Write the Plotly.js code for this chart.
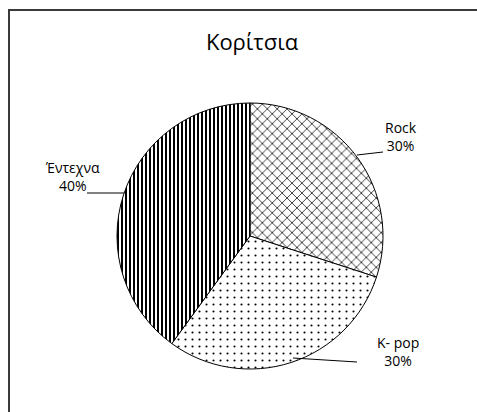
<!DOCTYPE html>
<html>
<head>
<meta charset="utf-8">
<script src="https://cdn.plot.ly/plotly-3.0.1.min.js"></script>
<style>html,body{margin:0;padding:0;background:#fff;}#chart{width:477px;height:412px;}</style>
</head>
<body>
<div id="chart"></div>
<script>
const categories = ['Rock', 'K- pop', 'Έντεχνα'];
const values = [30, 30, 40];
const chartTitle = 'Κορίτσια';

const W = 477, H = 412;
const px = x => x / W;
const py = y => 1 - y / H;

const total = values.reduce((a, b) => a + b, 0);
const pctText = values.map(v => Math.round(v / total * 100) + '%');

// label placement (layout positions in pixels)
const labelPos = [
  {x: 401, y: 137},
  {x: 398, y: 351},
  {x: 72, y: 177}
];
const leaders = [
  [[357, 155], [383, 152]],
  [[293, 358], [357, 362]],
  [[124, 193], [87, 193]]
];

const trace = {
  type: 'pie',
  labels: categories,
  values: values,
  sort: false,
  direction: 'clockwise',
  rotation: 0,
  textinfo: 'none',
  hoverinfo: 'label+percent',
  domain: {x: [px(117), px(383)], y: [py(369), py(103)]},
  marker: {
    colors: ['#ffffff', '#ffffff', '#ffffff'],
    line: {color: '#000000', width: 1},
    pattern: {
      shape: ['x', '.', '|'],
      fgcolor: '#000000',
      bgcolor: '#ffffff',
      size: [7, 7, 4],
      solidity: [0.2, 0.07, 0.5],
      fillmode: 'replace'
    }
  },
  showlegend: false
};

const annotations = categories.map((c, i) => ({
  xref: 'paper', yref: 'paper',
  x: px(labelPos[i].x), y: py(labelPos[i].y),
  xanchor: 'center', yanchor: 'middle',
  text: c + '<br>' + pctText[i],
  showarrow: false,
  align: 'center',
  font: {family: 'Open Sans, sans-serif', size: 14, color: '#000'}
}));

const shapes = leaders.map(l => ({
  type: 'line', xref: 'paper', yref: 'paper',
  x0: px(l[0][0]), y0: py(l[0][1]), x1: px(l[1][0]), y1: py(l[1][1]),
  line: {color: '#000', width: 1}
}));
shapes.push({
  type: 'rect', xref: 'paper', yref: 'paper',
  x0: px(9), y0: -0.05, x1: 1.05, y1: py(10),
  line: {color: '#3a3a3a', width: 2}
});

const layout = {
  width: W, height: H,
  margin: {l: 0, r: 0, t: 0, b: 0},
  paper_bgcolor: '#ffffff',
  title: {
    text: chartTitle,
    x: px(252), xanchor: 'center',
    y: py(42), yanchor: 'middle',
    font: {family: 'Open Sans, sans-serif', size: 22, color: '#000'}
  },
  annotations: annotations,
  shapes: shapes
};

Plotly.newPlot('chart', [trace], layout, {displayModeBar: false, staticPlot: true});
</script>
</body>
</html>
